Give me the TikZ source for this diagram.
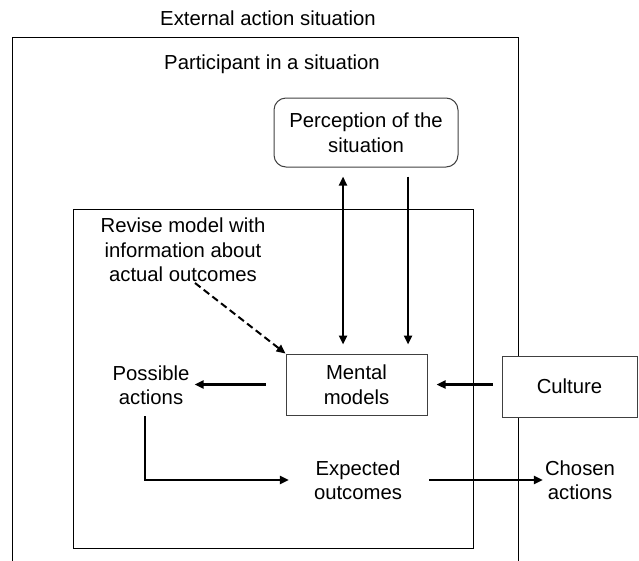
\documentclass[tikz,border=0pt]{standalone}
\usepackage{fontspec}
\setmainfont{Liberation Sans}
\usetikzlibrary{arrows.meta}
\begin{document}
\begin{tikzpicture}[x=1pt,y=-1pt,
  lbl/.style={align=center,font=\fontsize{20.3}{24.5}\selectfont,inner sep=0pt},
  boxa/.style={draw=black!75,fill=white,line width=1pt,minimum width=141pt,minimum height=61pt,lbl},
  tip/.style={Triangle[length=9pt,width=8pt]},
  arr/.style={line width=2.3pt,-{Triangle[length=9pt,width=8pt]}},
  frame/.style={line width=0.9pt}]
\useasboundingbox (0,0) rectangle (639,560);
\node[lbl] (ext) at (268,18) {External action situation};
\draw[frame] (12,561) -- (12,37) -- (518,37) -- (518,561);
\node[lbl] (part) at (272,64) {Participant in a situation};
\draw[frame] (73,209) rectangle (473,548);
\node[lbl,draw=black!75,line width=1pt,rounded corners=12pt,minimum width=184pt,minimum height=69pt] (perc) at (366,132.5) {Perception of the\\situation};
\node[boxa] (mm) at (356.5,384.5) {Mental\\models};
\node[boxa,minimum width=135pt] (cult) at (569.5,386.5) {Culture};
\node[lbl] (pa) at (151,385) {Possible\\actions};
\node[lbl] (rev) at (183,250) {Revise model with\\information about\\actual outcomes};
\node[lbl] (eo) at (358,480) {Expected\\outcomes};
\node[lbl] (ca) at (580,480) {Chosen\\actions};
\coordinate (xl) at (343,0);
\coordinate (xr) at (408,0);
\draw[arr,{Triangle[length=9pt,width=8pt]}-{Triangle[length=9pt,width=8pt]},shorten <=9pt,shorten >=9pt] (perc.south -| xl) -- (mm.north -| xl);
\draw[arr,shorten <=9pt,shorten >=9pt] (perc.south -| xr) -- (mm.north -| xr);
\draw[arr,shorten <=9pt,shorten >=9pt] (cult.west |- mm.east) -- (mm.east);
\draw[arr,shorten <=20pt,shorten >=5pt] (mm.west) -- (pa.east |- mm.west);
\coordinate (ds) at (195,283);
\draw[arr,line width=2pt,dash pattern=on 7pt off 4pt] (ds) -- (mm.north west);
\coordinate (pb) at (145,416);
\draw[arr,line cap=butt] (pb) |- ([xshift=-25pt]eo.west);
\draw[arr,shorten <=27pt,shorten >=2pt] (eo.east) -- (ca.west |- eo.east);
\end{tikzpicture}
\end{document}
